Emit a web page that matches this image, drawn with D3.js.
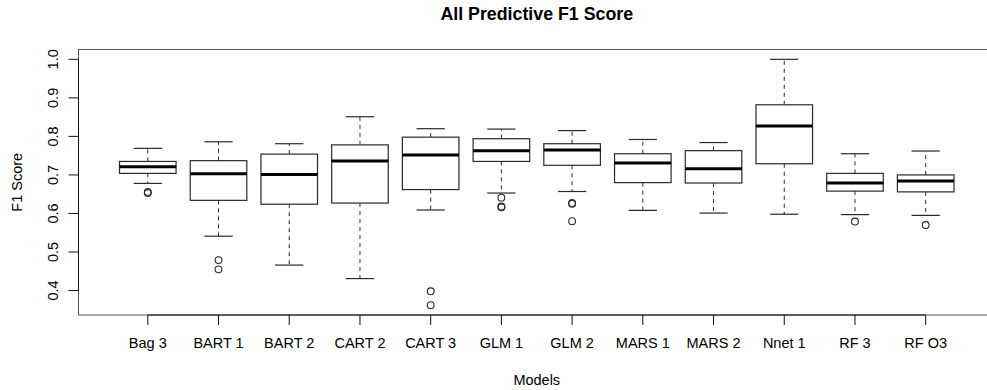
<!DOCTYPE html>
<html>
<head>
<meta charset="utf-8">
<script src="https://cdn.jsdelivr.net/npm/d3@7"></script>
<style>
  html, body { margin: 0; padding: 0; background: #fff; }
  svg { display: block; font-family: "Liberation Sans", Arial, Helvetica, sans-serif; }
</style>
</head>
<body>
<svg id="chart" width="987" height="390"></svg>
<script>
// Model names along the x axis
const models = ["Bag 3", "BART 1", "BART 2", "CART 2", "CART 3", "GLM 1",
                "GLM 2", "MARS 1", "MARS 2", "Nnet 1", "RF 3", "RF O3"];

// Five-number summaries of the F1 score for each model
const whiskerLow  = [0.678, 0.541, 0.466, 0.431, 0.609, 0.653, 0.657, 0.608, 0.601, 0.598, 0.597, 0.595];
const quartile1   = [0.704, 0.634, 0.624, 0.627, 0.662, 0.735, 0.725, 0.680, 0.679, 0.729, 0.658, 0.656];
const medians     = [0.721, 0.703, 0.701, 0.736, 0.752, 0.763, 0.765, 0.731, 0.716, 0.827, 0.679, 0.684];
const quartile3   = [0.735, 0.737, 0.754, 0.778, 0.798, 0.794, 0.781, 0.755, 0.763, 0.882, 0.704, 0.700];
const whiskerHigh = [0.769, 0.786, 0.781, 0.851, 0.820, 0.819, 0.815, 0.792, 0.784, 1.000, 0.755, 0.762];

// Points beyond the whiskers
const outliers = [
  [0.653, 0.656],
  [0.479, 0.455],
  [],
  [],
  [0.398, 0.362],
  [0.641, 0.616, 0.618],
  [0.627, 0.625, 0.580],
  [],
  [],
  [],
  [0.579],
  [0.570]
];

const yTicks = [0.4, 0.5, 0.6, 0.7, 0.8, 0.9, 1.0];

const titleText = "All Predictive F1 Score";
const xTitle = "Models";
const yTitle = "F1 Score";

const svg = d3.select("#chart");
const plot = { left: 78.5, right: 995, top: 49.5, bottom: 315 };

// Axis limits padded by 4% on each side
const allVals = whiskerLow.concat(whiskerHigh, outliers.flat());
const yMin = d3.min(allVals), yMax = d3.max(allVals);
const yPad = (yMax - yMin) * 0.04;
const y = d3.scaleLinear().domain([yMin - yPad, yMax + yPad]).range([plot.bottom, plot.top]);

const xLo = 0.5, xHi = models.length + 0.5, xPad = (xHi - xLo) * 0.04;
const x = d3.scaleLinear().domain([xLo - xPad, xHi + xPad]).range([plot.left, plot.right]);

const step = x(2) - x(1);
const boxW = step * 0.8;
const capW = boxW * 0.5;
const lineCol = "#2a2a2a";

// Plot frame
svg.append("rect")
  .attr("x", plot.left).attr("y", plot.top)
  .attr("width", plot.right - plot.left).attr("height", plot.bottom - plot.top)
  .attr("fill", "none").attr("stroke", "#555").attr("stroke-width", 1);

// Boxes
const g = svg.append("g");
models.forEach((m, i) => {
  const cx = x(i + 1);
  // dashed whiskers
  g.append("line")
    .attr("x1", cx).attr("x2", cx)
    .attr("y1", y(quartile3[i])).attr("y2", y(whiskerHigh[i]))
    .attr("stroke", lineCol).attr("stroke-width", 1).attr("stroke-dasharray", "4,4");
  g.append("line")
    .attr("x1", cx).attr("x2", cx)
    .attr("y1", y(quartile1[i])).attr("y2", y(whiskerLow[i]))
    .attr("stroke", lineCol).attr("stroke-width", 1).attr("stroke-dasharray", "4,4");
  // whisker caps
  [whiskerHigh[i], whiskerLow[i]].forEach(v => {
    g.append("line")
      .attr("x1", cx - capW / 2).attr("x2", cx + capW / 2)
      .attr("y1", y(v)).attr("y2", y(v))
      .attr("stroke", lineCol).attr("stroke-width", 1.2);
  });
  // box
  g.append("rect")
    .attr("x", cx - boxW / 2).attr("y", y(quartile3[i]))
    .attr("width", boxW).attr("height", y(quartile1[i]) - y(quartile3[i]))
    .attr("fill", "#fff").attr("stroke", lineCol).attr("stroke-width", 1.2);
  // median
  g.append("line")
    .attr("x1", cx - boxW / 2).attr("x2", cx + boxW / 2)
    .attr("y1", y(medians[i])).attr("y2", y(medians[i]))
    .attr("stroke", "#000").attr("stroke-width", 3);
  // outliers
  outliers[i].forEach(v => {
    g.append("circle")
      .attr("cx", cx).attr("cy", y(v)).attr("r", 3.4)
      .attr("fill", "none").attr("stroke", lineCol).attr("stroke-width", 1.1);
  });
});

// Y axis
const yAxis = svg.append("g").attr("transform", `translate(${plot.left},0)`);
yAxis.append("line")
  .attr("x1", 0).attr("x2", 0)
  .attr("y1", y(yTicks[0])).attr("y2", y(yTicks[yTicks.length - 1]))
  .attr("stroke", "#111");
yTicks.forEach(t => {
  yAxis.append("line")
    .attr("x1", 0).attr("x2", -10).attr("y1", y(t)).attr("y2", y(t))
    .attr("stroke", "#111");
  yAxis.append("text")
    .attr("transform", `translate(-21,${y(t)}) rotate(-90)`)
    .attr("text-anchor", "middle")
    .attr("font-size", 14.5).attr("fill", "#000")
    .text(d3.format(".1f")(t));
});

// X axis
const xAxis = svg.append("g").attr("transform", `translate(0,${plot.bottom})`);
xAxis.append("line")
  .attr("x1", x(1)).attr("x2", x(models.length))
  .attr("y1", 0).attr("y2", 0).attr("stroke", "#111");
models.forEach((m, i) => {
  xAxis.append("line")
    .attr("x1", x(i + 1)).attr("x2", x(i + 1)).attr("y1", 0).attr("y2", 10)
    .attr("stroke", "#111");
  xAxis.append("text")
    .attr("x", x(i + 1)).attr("y", 33)
    .attr("text-anchor", "middle")
    .attr("font-size", 14.5).attr("fill", "#000")
    .text(m);
});

// Titles
const cxPlot = (plot.left + plot.right) / 2;
svg.append("text")
  .attr("x", cxPlot).attr("y", 20)
  .attr("text-anchor", "middle")
  .attr("font-size", 17.8).attr("font-weight", "bold")
  .text(titleText);
svg.append("text")
  .attr("x", cxPlot).attr("y", 385)
  .attr("text-anchor", "middle")
  .attr("font-size", 14.5)
  .text(xTitle);
svg.append("text")
  .attr("transform", `translate(22,${(plot.top + plot.bottom) / 2}) rotate(-90)`)
  .attr("text-anchor", "middle")
  .attr("font-size", 14.5)
  .text(yTitle);
</script>
</body>
</html>
